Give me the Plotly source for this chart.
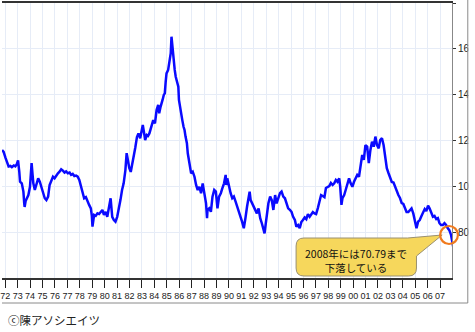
import plotly.graph_objects as go

# US dollar index, read roughly month by month, split by decade
years_70s = [1971.74, 1971.87, 1972.02, 1972.14, 1972.27, 1972.41, 1972.53, 1972.69, 1972.81, 1972.93,
             1973.03, 1973.13, 1973.19, 1973.33, 1973.46, 1973.53, 1973.56, 1973.64, 1973.72, 1973.86,
             1973.99, 1974.07, 1974.12, 1974.20, 1974.26, 1974.38, 1974.52, 1974.65, 1974.78, 1974.92,
             1975.05, 1975.18, 1975.31, 1975.45, 1975.57, 1975.71, 1975.84, 1975.97, 1976.11, 1976.24,
             1976.37, 1976.50, 1976.64, 1976.77, 1976.90, 1977.04, 1977.18, 1977.30, 1977.43, 1977.56,
             1977.70, 1977.83, 1977.96, 1978.09, 1978.23, 1978.35, 1978.49, 1978.62, 1978.75, 1978.89,
             1978.97, 1979.02, 1979.09, 1979.15, 1979.28, 1979.42, 1979.55, 1979.68, 1979.82, 1979.94]
index_70s = [115.9, 115.0, 112.4, 110.2, 108.7, 108.9, 108.4, 109.1, 108.7, 109.7,
             111.3, 106.3, 102.0, 101.3, 97.7, 92.3, 91.0, 93.6, 94.8, 96.2,
             99.8, 105.0, 110.1, 105.0, 101.3, 98.4, 100.6, 103.5, 102.0, 99.8,
             97.7, 94.8, 94.0, 95.5, 100.6, 102.8, 104.2, 103.5, 105.0, 105.7,
             106.4, 107.4, 106.8, 106.0, 106.5, 105.7, 106.0, 105.0, 105.4, 104.5,
             104.7, 104.2, 102.8, 99.8, 96.2, 94.8, 95.3, 93.3, 91.9, 90.4,
             87.1, 82.4, 86.2, 87.5, 87.1, 88.2, 87.9, 88.9, 89.7, 87.5]

years_80s = [1980.08, 1980.21, 1980.34, 1980.48, 1980.56, 1980.61, 1980.74, 1980.87, 1981.01, 1981.13,
             1981.27, 1981.40, 1981.53, 1981.67, 1981.77, 1981.87, 1981.98, 1982.10, 1982.22, 1982.33,
             1982.46, 1982.60, 1982.72, 1982.86, 1982.99, 1983.07, 1983.18, 1983.26, 1983.39, 1983.49,
             1983.60, 1983.69, 1983.79, 1983.91, 1984.05, 1984.18, 1984.31, 1984.39, 1984.50, 1984.58,
             1984.66, 1984.76, 1984.84, 1984.91, 1984.98, 1985.11, 1985.18, 1985.24, 1985.32, 1985.38,
             1985.46, 1985.50, 1985.56, 1985.64, 1985.72, 1985.82, 1985.93, 1985.98, 1986.09, 1986.17,
             1986.25, 1986.35, 1986.43, 1986.51, 1986.62, 1986.69, 1986.83, 1986.96, 1987.09, 1987.23,
             1987.36, 1987.49, 1987.62, 1987.76, 1987.89, 1988.02, 1988.16, 1988.24, 1988.28, 1988.42,
             1988.55, 1988.68, 1988.82, 1988.95, 1989.08, 1989.21, 1989.35, 1989.47, 1989.61, 1989.74,
             1989.79, 1989.87]
index_80s = [88.9, 86.7, 90.4, 94.8, 89.7, 86.7, 85.3, 84.6, 86.7, 89.7,
             94.0, 98.4, 101.3, 107.1, 114.5, 111.5, 108.0, 106.3, 109.3, 112.8,
             116.7, 121.5, 123.1, 121.0, 125.3, 126.8, 123.1, 120.2, 122.4, 122.0,
             123.1, 124.6, 126.0, 128.9, 127.5, 133.3, 135.5, 131.9, 134.7, 135.9,
             137.7, 139.9, 140.6, 145.5, 149.3, 150.8, 153.4, 155.1, 158.1, 165.3,
             159.5, 158.2, 156.6, 150.8, 147.8, 145.0, 143.5, 137.7, 133.3, 131.1,
             128.9, 126.0, 124.6, 121.7, 118.8, 114.4, 110.6, 105.7, 106.4, 104.2,
             100.6, 98.4, 99.8, 97.0, 101.3, 97.7, 92.6, 86.1, 89.7, 90.4,
             88.9, 95.5, 98.4, 97.7, 90.4, 95.5, 97.0, 99.1, 101.3, 105.0,
             100.6, 103.5]

years_90s = [1990.01, 1990.14, 1990.27, 1990.40, 1990.54, 1990.67, 1990.80, 1990.94, 1991.06, 1991.20,
             1991.28, 1991.33, 1991.46, 1991.60, 1991.67, 1991.75, 1991.86, 1991.99, 1992.13, 1992.25,
             1992.39, 1992.52, 1992.65, 1992.79, 1992.87, 1992.97, 1993.05, 1993.18, 1993.32, 1993.45,
             1993.58, 1993.72, 1993.84, 1993.98, 1994.11, 1994.24, 1994.38, 1994.51, 1994.64, 1994.77,
             1994.91, 1995.04, 1995.17, 1995.31, 1995.43, 1995.57, 1995.70, 1995.83, 1995.96, 1996.10,
             1996.23, 1996.36, 1996.50, 1996.62, 1996.76, 1996.89, 1997.02, 1997.16, 1997.29, 1997.42,
             1997.55, 1997.69, 1997.81, 1997.95, 1998.08, 1998.21, 1998.35, 1998.48, 1998.61, 1998.74,
             1998.88, 1998.96, 1999.06, 1999.14, 1999.28, 1999.40, 1999.54, 1999.67, 1999.80, 1999.94]
index_90s = [99.8, 97.0, 94.8, 95.5, 93.3, 91.1, 88.9, 87.5, 84.6, 81.7,
             83.9, 86.1, 91.1, 95.5, 97.7, 94.0, 92.6, 91.1, 88.9, 88.2,
             90.4, 86.1, 83.9, 81.7, 79.5, 83.9, 88.2, 92.6, 95.5, 94.0,
             89.7, 96.2, 92.6, 95.5, 97.0, 97.7, 95.5, 94.8, 92.6, 90.4,
             89.7, 88.9, 86.7, 85.3, 82.4, 83.1, 81.7, 84.4, 85.3, 86.4,
             85.7, 87.9, 86.7, 87.9, 88.8, 88.2, 87.9, 90.5, 93.2, 96.2,
             95.8, 95.3, 99.3, 99.9, 100.1, 101.5, 100.6, 101.3, 102.8, 102.0,
             103.5, 99.8, 91.9, 94.8, 96.2, 98.4, 100.6, 103.5, 101.3, 99.8]

LOW_2008 = 70.79

years_00s = [2000.07, 2000.20, 2000.33, 2000.47, 2000.59, 2000.73, 2000.86, 2000.99, 2001.13, 2001.26,
             2001.39, 2001.52, 2001.66, 2001.79, 2001.92, 2002.06, 2002.18, 2002.32, 2002.45, 2002.58,
             2002.71, 2002.85, 2002.98, 2003.11, 2003.25, 2003.37, 2003.51, 2003.64, 2003.77, 2003.91,
             2004.04, 2004.17, 2004.30, 2004.44, 2004.57, 2004.70, 2004.84, 2004.96, 2005.10, 2005.23,
             2005.36, 2005.50, 2005.63, 2005.76, 2005.89, 2006.03, 2006.15, 2006.29, 2006.42, 2006.55,
             2006.69, 2006.82, 2006.95, 2007.08, 2007.22, 2007.35, 2007.48, 2007.62, 2007.74, 2007.88,
             2008.15]
index_00s = [102.0, 103.6, 105.0, 104.2, 107.9, 113.7, 111.5, 118.0, 117.3, 110.1,
             115.9, 119.5, 117.3, 121.7, 118.0, 116.6, 120.2, 121.0, 118.0, 112.9,
             107.9, 105.7, 103.6, 101.9, 101.7, 99.7, 97.5, 96.2, 94.9, 92.7,
             92.3, 90.8, 88.8, 88.8, 89.7, 90.4, 88.2, 85.7, 81.7, 84.6,
             85.3, 87.1, 88.6, 90.1, 89.2, 91.6, 90.4, 88.6, 86.7, 87.1,
             85.7, 86.1, 83.9, 83.1, 83.1, 83.9, 83.1, 81.7, 80.9, 78.8,
             LOW_2008]

TICK_YEARS = list(range(1972, 2008))
TICK_LABELS = [f"{y % 100:02d}" for y in TICK_YEARS]
Y_TICKS = [80, 100, 120, 140, 160, 180]

NOTE_TEXT = f"2008年には{LOW_2008:.2f}まで<br>下落している"
CREDIT_TEXT = "ⓒ陳アソシエイツ"

years = years_70s + years_80s + years_90s + years_00s
index = index_70s + index_80s + index_90s + index_00s

# page geometry
W, H = 475, 332
ML, MR, MT, MB = 0, 19, 3, 54
PW, PH = W - ML - MR, H - MT - MB


def paper(px, py):
    return (px - ML) / PW, (H - MB - py) / PH


def pt(px, py):
    x, y = paper(px, py)
    return f"{x:.5f},{y:.5f}"


NARROW = "Liberation Sans Narrow, Liberation Sans, Arial, sans-serif"
JP = "Noto Sans CJK JP, sans-serif"
GRID = "#e6ecf7"

fig = go.Figure()
fig.add_trace(go.Scatter(
    x=years, y=index, mode="lines",
    line=dict(color="#0a0aff", width=2.5),
    hoverinfo="skip", showlegend=False,
))

# callout balloon with its tail pointing at the end of the line
balloon = (
    f"M {pt(306,238)} L {pt(411,238)} L {pt(446,235)} L {pt(420,256)} "
    f"L {pt(420,268)} Q {pt(420,276)} {pt(412,276)} L {pt(306,276)} "
    f"Q {pt(298,276)} {pt(298,268)} L {pt(298,246)} Q {pt(298,238)} {pt(306,238)} Z"
)

cx0, cy0 = paper(444, 244)
cx1, cy1 = paper(462, 226)
clip_x0, clip_y0 = paper(472.6, 340)
clip_x1, clip_y1 = paper(480, -5)
fr_x, fr_top = paper(472, 0)
_, fr_bot = paper(472, 303)
fr_left, _ = paper(0, 303)

shapes = [
    dict(type="path", xref="paper", yref="paper", path=balloon,
         fillcolor="#f6d75c", line=dict(color="#9a9070", width=1), layer="above"),
    dict(type="circle", xref="paper", yref="paper", x0=cx0, y0=cy0, x1=cx1, y1=cy1,
         line=dict(color="#f07a1e", width=2.2), layer="above"),
    dict(type="rect", xref="paper", yref="paper", x0=clip_x0, y0=clip_y0, x1=clip_x1, y1=clip_y1,
         fillcolor="white", line=dict(width=0), layer="above"),
    dict(type="line", xref="paper", yref="paper", x0=fr_x, y0=fr_top, x1=fr_x, y1=fr_bot,
         line=dict(color="#8a8a8a", width=1), layer="above"),
    dict(type="line", xref="paper", yref="paper", x0=fr_left, y0=fr_bot, x1=fr_x, y1=fr_bot,
         line=dict(color="#8a8a8a", width=1), layer="above"),
]

nx, ny = paper(359, 260)
kx, ky = paper(4, 320)
annotations = [
    dict(xref="paper", yref="paper", x=nx, y=ny, text=NOTE_TEXT, showarrow=False,
         xanchor="center", yanchor="middle", align="center",
         font=dict(family=JP, size=10.5, color="#111")),
    dict(xref="paper", yref="paper", x=kx, y=ky, text=CREDIT_TEXT, showarrow=False,
         xanchor="left", yanchor="middle",
         font=dict(family=JP, size=11.5, color="#222")),
]

x_lo = TICK_YEARS[0] - 3.3 / 12.59
x_hi = TICK_YEARS[0] + 452.7 / 12.59

fig.update_layout(
    width=W, height=H,
    margin=dict(l=ML, r=MR, t=MT, b=MB, pad=0),
    paper_bgcolor="white", plot_bgcolor="white",
    shapes=shapes, annotations=annotations,
    xaxis=dict(
        range=[x_lo, x_hi], tickmode="array", tickvals=TICK_YEARS, ticktext=TICK_LABELS,
        tickangle=0, ticklabeloverflow="allow",
        showgrid=True, gridcolor=GRID, gridwidth=1, zeroline=False,
        showline=True, linecolor="#333", linewidth=2, mirror=True,
        ticks="outside", ticklen=8, tickcolor="#222", tickwidth=1,
        tickfont=dict(family=NARROW, size=9, color="#222"),
    ),
    yaxis=dict(
        range=[60, 180], side="right", tickmode="array", tickvals=Y_TICKS,
        showgrid=True, gridcolor=GRID, gridwidth=1, zeroline=False,
        showline=True, linecolor="#888", linewidth=1,
        ticks="outside", ticklen=3, tickcolor="#333", tickwidth=1,
        tickfont=dict(family=NARROW, size=10, color="#222"),
    ),
)

fig.write_html("out.html")
